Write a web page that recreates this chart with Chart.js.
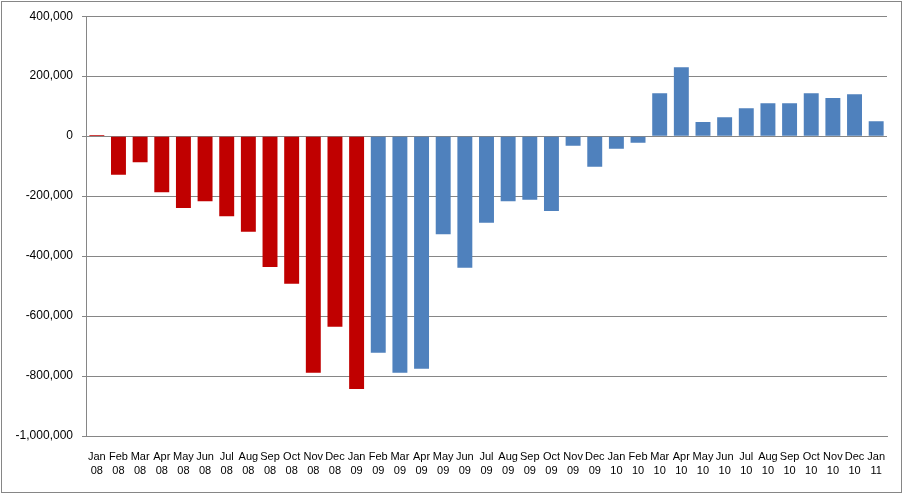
<!DOCTYPE html>
<html>
<head>
<meta charset="utf-8">
<script src="https://cdn.jsdelivr.net/npm/chart.js@4"></script>
<style>
  html, body { margin: 0; padding: 0; background: #fff; }
  #wrap { width: 904px; height: 495px; }
</style>
</head>
<body>
<div id="wrap"><canvas id="chart" width="904" height="495"></canvas></div>
<script>
const months = ['Jan','Feb','Mar','Apr','May','Jun','Jul','Aug','Sep','Oct','Nov','Dec',
                'Jan','Feb','Mar','Apr','May','Jun','Jul','Aug','Sep','Oct','Nov','Dec',
                'Jan','Feb','Mar','Apr','May','Jun','Jul','Aug','Sep','Oct','Nov','Dec','Jan'];
const years = ['08','08','08','08','08','08','08','08','08','08','08','08',
               '09','09','09','09','09','09','09','09','09','09','09','09',
               '10','10','10','10','10','10','10','10','10','10','10','10','11'];
const values = [4000, -129000, -87000, -187000, -240000, -217000, -267000, -319000, -436000, -492000, -789000, -636000,
                -843000, -722000, -789000, -776000, -327000, -439000, -289000, -217000, -212000, -250000, -32000, -102000,
                -42000, -22000, 143000, 230000, 47000, 63000, 93000, 110000, 110000, 143000, 127000, 140000, 50000];
// first 13 bars (Jan 08 - Jan 09) are red, the rest blue
const redCount = 13;
const yTicks = [-1000000, -800000, -600000, -400000, -200000, 0, 200000, 400000];

const labels = months.map((m, i) => [m, years[i]]);
const colors = values.map((v, i) => i < redCount ? '#C00000' : '#4F81BD');

const frame = {
    id: 'frame',
    afterDraw(chart) {
        const c = chart.ctx;
        c.save();
        c.strokeStyle = '#868686';
        c.lineWidth = 1;
        c.strokeRect(1.5, 1.5, 900, 491);
        c.restore();
    }
};

new Chart(document.getElementById('chart').getContext('2d'), {
    type: 'bar',
    data: {
        labels: labels,
        datasets: [{
            data: values,
            backgroundColor: colors,
            borderWidth: 0,
            barPercentage: 0.69,
            categoryPercentage: 1
        }]
    },
    options: {
        responsive: false,
        animation: false,
        layout: { padding: { left: 0, right: 17, top: 16, bottom: 0 } },
        plugins: { legend: { display: false }, tooltip: { enabled: false } },
        scales: {
            x: {
                grid: { display: false, drawTicks: false },
                border: { display: true, color: '#868686' },
                ticks: {
                    autoSkip: false, maxRotation: 0, minRotation: 0,
                    padding: 14,
                    color: '#000',
                    font: { family: 'Liberation Sans', size: 11, lineHeight: 1.27 }
                },
                afterFit(axis) { axis.height = 59; }
            },
            y: {
                min: -1000000,
                max: 400000,
                afterBuildTicks(axis) { axis.ticks = yTicks.map(v => ({ value: v })); },
                grid: { color: '#868686', lineWidth: 1, tickLength: 4 },
                border: { display: true, color: '#868686' },
                ticks: {
                    padding: 9,
                    color: '#000',
                    font: { family: 'Liberation Sans', size: 12 },
                    callback: v => v.toLocaleString('en-US')
                },
                afterFit(axis) { axis.width = 86; }
            }
        }
    },
    plugins: [frame]
});
</script>
</body>
</html>
